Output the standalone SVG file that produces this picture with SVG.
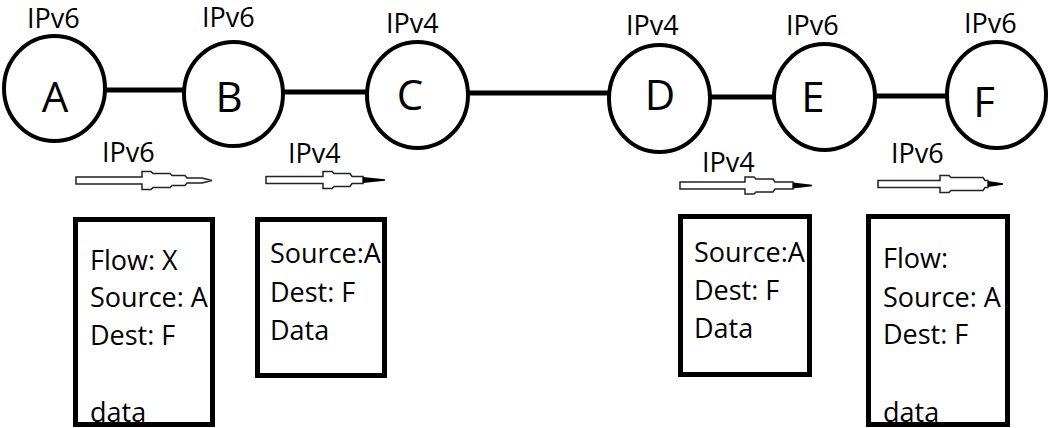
<svg xmlns="http://www.w3.org/2000/svg" width="1050" height="428" viewBox="0 0 1050 428">
  <style>
    .bg { fill: #ffffff; }
    .node { fill: #ffffff; stroke: #000000; stroke-width: 4; }
    .link { stroke: #000000; stroke-width: 5; fill: none; }
    .letter { font-family: "Open Sans", "Liberation Sans", sans-serif; font-size: 42px; fill: #000000; text-anchor: middle; }
    .lbl { font-family: "Open Sans", "Liberation Sans", sans-serif; font-size: 27px; fill: #000000; }
    .packet { fill: none; stroke: #000000; stroke-width: 5; }
    .hollow { fill: #ffffff; stroke: #222222; stroke-width: 1.5; stroke-linejoin: miter; }
    .tip { fill: #000000; }
  </style>
  <rect class="bg" x="0" y="0" width="1050" height="428"/>

  <!-- links between the hosts -->
  <g id="connectors">
    <line class="link" x1="104" y1="90" x2="185" y2="90"/>
    <line class="link" x1="282" y1="92" x2="368" y2="92"/>
    <line class="link" x1="467" y1="93" x2="610" y2="93"/>
    <line class="link" x1="709" y1="97" x2="775" y2="97"/>
    <line class="link" x1="874" y1="96" x2="948" y2="96"/>
  </g>

  <!-- hosts -->
  <g id="node-A">
    <ellipse class="node" cx="54.5" cy="88.5" rx="50.5" ry="52.5"/>
    <text class="letter" x="55" y="112">A</text>
    <text class="lbl" x="27" y="28">IPv6</text>
  </g>
  <g id="node-B">
    <ellipse class="node" cx="233.5" cy="94" rx="49.5" ry="52"/>
    <text class="letter" x="229" y="112">B</text>
    <text class="lbl" x="202" y="27">IPv6</text>
  </g>
  <g id="node-C">
    <ellipse class="node" cx="417.5" cy="95" rx="50.5" ry="53"/>
    <text class="letter" x="410" y="110">C</text>
    <text class="lbl" x="386" y="33">IPv4</text>
  </g>
  <g id="node-D">
    <ellipse class="node" cx="659.5" cy="98.5" rx="50.5" ry="53.5"/>
    <text class="letter" x="660" y="110">D</text>
    <text class="lbl" x="626" y="35">IPv4</text>
  </g>
  <g id="node-E">
    <ellipse class="node" cx="824.5" cy="97" rx="50.5" ry="53"/>
    <text class="letter" x="813" y="112">E</text>
    <text class="lbl" x="786" y="35">IPv6</text>
  </g>
  <g id="node-F">
    <ellipse class="node" cx="996.5" cy="95" rx="49.5" ry="53"/>
    <text class="letter" x="984" y="117">F</text>
    <text class="lbl" x="964" y="33">IPv6</text>
  </g>

  <!-- direction arrows for each hop -->
  <g id="hop-arrows">
    <g transform="translate(76,180.5)">
      <path class="hollow" d="M0,-3.5 H66 V-9 H75 L77,-7 H94 L96,-5 H109 L111,-2.5 H126 L136,0 L126,2.5 H111 L109,5 H96 L94,7 H77 L75,9 H66 V3.5 H0 Z"/>
    </g>
    <text class="lbl" x="102" y="162">IPv6</text>

    <g transform="translate(266,180)">
      <path class="hollow" d="M0,-3.5 H57 V-8.5 H66 L68,-6.5 H84 L86,-3.5 H97 V3.5 H86 L84,6.5 H68 L66,8.5 H57 V3.5 H0 Z"/>
      <path class="tip" d="M97,-3 L119,-0.8 V0.8 L97,3 Z"/>
    </g>
    <text class="lbl" x="288" y="163">IPv4</text>

    <g transform="translate(680,185.5)">
      <path class="hollow" d="M0,-3.5 H65 V-8.5 H74 L76,-6.5 H93 L95,-3.5 H113 V3.5 H95 L93,6.5 H76 L74,8.5 H65 V3.5 H0 Z"/>
      <path class="tip" d="M113,-3 L132,-0.8 V0.8 L113,3 Z"/>
    </g>
    <text class="lbl" x="702" y="172">IPv4</text>

    <g transform="translate(878,184)">
      <path class="hollow" d="M0,-3.5 H62 V-8.5 H71 L73,-6.5 H105 L107,-3.5 H110 V3.5 H107 L105,6.5 H73 L71,8.5 H62 V3.5 H0 Z"/>
      <path class="tip" d="M110,-3 L125,-0.8 V0.8 L110,3 Z"/>
    </g>
    <text class="lbl" x="891" y="163">IPv6</text>
  </g>

  <!-- packet headers -->
  <g id="packet-AB">
    <text class="lbl" x="90" y="270">Flow: X</text>
    <text class="lbl" x="90" y="307">Source: A</text>
    <text class="lbl" x="90" y="345">Dest: F</text>
    <text class="lbl" x="90" y="422">data</text>
    <rect class="packet" x="75.5" y="219.5" width="137" height="205"/>
  </g>
  <g id="packet-BC">
    <text class="lbl" x="270" y="263">Source:A</text>
    <text class="lbl" x="270" y="302">Dest: F</text>
    <text class="lbl" x="270" y="340">Data</text>
    <rect class="packet" x="257.5" y="219.5" width="127" height="156"/>
  </g>
  <g id="packet-DE">
    <text class="lbl" x="694" y="262">Source:A</text>
    <text class="lbl" x="694" y="300">Dest: F</text>
    <text class="lbl" x="694" y="338">Data</text>
    <rect class="packet" x="680.5" y="216.5" width="129" height="158"/>
  </g>
  <g id="packet-EF">
    <text class="lbl" x="883" y="268">Flow:</text>
    <text class="lbl" x="883" y="307">Source: A</text>
    <text class="lbl" x="883" y="344">Dest: F</text>
    <text class="lbl" x="883" y="422">data</text>
    <rect class="packet" x="868.5" y="216.5" width="139" height="208"/>
  </g>
</svg>
